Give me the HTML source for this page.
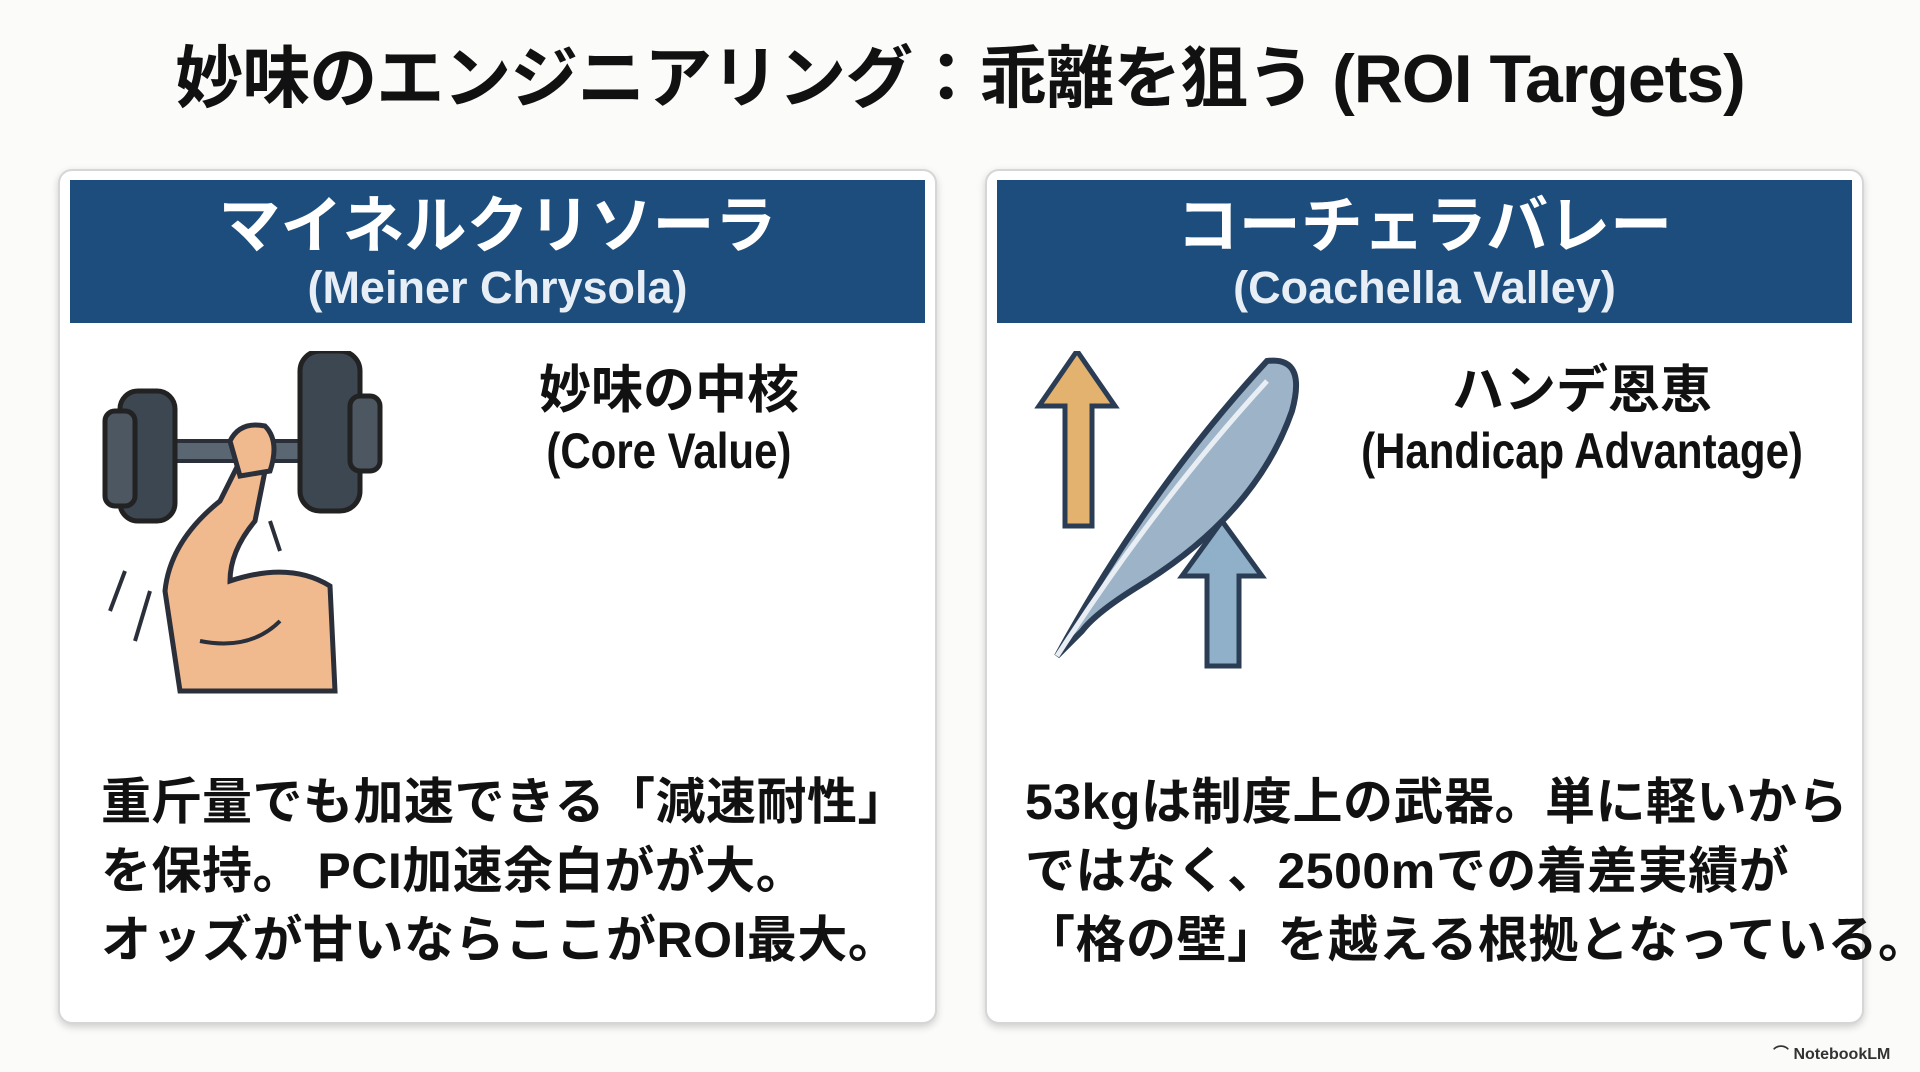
<!DOCTYPE html>
<html><head><meta charset="utf-8"><style>
body{margin:0;width:1920px;height:1072px;background:#fbfbf9;font-family:"Liberation Sans","Noto Sans CJK JP",sans-serif;position:relative;overflow:hidden;color:#111}
.t{position:absolute;white-space:nowrap;font-weight:bold}
.card{position:absolute;top:169px;width:875px;height:851px;background:#fff;border:2px solid #d6d6d6;border-radius:14px;box-shadow:0 3px 8px rgba(0,0,0,.18)}
.hd{position:absolute;left:10px;right:10px;top:9px;height:143px;background:#1d4d7c;color:#fff;text-align:center}
.hd .a{font-size:62px;line-height:70px;padding-top:12px;font-weight:bold}
.hd .b{font-size:45px;line-height:52px;font-weight:bold;color:#e8eef5}
.sub{position:absolute;text-align:center;font-weight:bold;font-size:52px;line-height:60px;white-space:nowrap}
.sub span{display:inline-block;font-size:50px;transform:scaleX(0.84)}
.body{position:absolute;font-weight:bold;font-size:50px;line-height:69px;white-space:nowrap;letter-spacing:0.5px}
</style></head><body>
<div class="t" style="left:0;width:1920px;text-align:center;top:34px;font-size:68px;line-height:90px;letter-spacing:-1px">妙味のエンジニアリング：乖離を狙う (ROI Targets)</div>

<div class="card" style="left:58px">
 <div class="hd"><div class="a">マイネルクリソーラ</div><div class="b">(Meiner Chrysola)</div></div>
 <div class="sub" style="left:359px;width:500px;top:190px">妙味の中核<br><span>(Core Value)</span></div>
 <svg style="position:absolute;left:30px;top:180px" width="330" height="350" viewBox="0 0 330 350">
  <path d="M90 340 L75 240 Q80 190 130 150 L150 110 Q170 100 175 120 L165 170 Q140 200 140 230 Q200 210 240 235 L245 340 Z" fill="#f0b98e" stroke="#2a2f3a" stroke-width="5"/>
  <path d="M110 290 Q160 300 190 270" fill="none" stroke="#2a2f3a" stroke-width="4"/>
  <rect x="80" y="90" width="150" height="20" rx="6" fill="#5a6672" stroke="#2a2f3a" stroke-width="4"/>
  <rect x="30" y="40" width="55" height="130" rx="18" fill="#3d4752" stroke="#222" stroke-width="5"/>
  <rect x="15" y="60" width="30" height="95" rx="10" fill="#4c5762" stroke="#222" stroke-width="5"/>
  <rect x="210" y="0" width="60" height="160" rx="20" fill="#3d4752" stroke="#222" stroke-width="5"/>
  <rect x="260" y="45" width="30" height="75" rx="10" fill="#4c5762" stroke="#222" stroke-width="5"/>
  <path d="M140 90 Q150 70 175 75 Q190 90 180 120 L150 125 Z" fill="#f0b98e" stroke="#2a2f3a" stroke-width="5"/>
  <path d="M60 240 L45 290 M35 220 L20 260 M180 170 L190 200" stroke="#2a2f3a" stroke-width="4"/>
 </svg>
 <div class="body" style="left:41px;top:597px">重斤量でも加速できる「減速耐性」<br>を保持。 PCI加速余白がが大。<br>オッズが甘いならここがROI最大。</div>
</div>

<div class="card" style="left:985px">
 <div class="hd"><div class="a">コーチェラバレー</div><div class="b">(Coachella Valley)</div></div>
 <div class="sub" style="left:300px;width:590px;top:190px">ハンデ恩恵<br><span>(Handicap Advantage)</span></div>
 <svg style="position:absolute;left:40px;top:180px" width="300" height="320" viewBox="0 0 300 320">
  <path d="M50 0 L88 55 L65 55 L65 175 L38 175 L38 55 L12 55 Z" fill="#e2b26e" stroke="#2a3d55" stroke-width="5"/>
  <path d="M195 170 L235 225 L212 225 L212 315 L180 315 L180 225 L155 225 Z" fill="#8fb0c8" stroke="#2a3d55" stroke-width="5"/>
  <path d="M30 305 Q120 140 240 10 Q280 5 265 60 Q230 160 120 230 Q70 260 55 280 Z" fill="#9db4c8" stroke="#2a3d55" stroke-width="6"/>
  <path d="M30 305 Q130 150 240 30" fill="none" stroke="#e8eef3" stroke-width="5"/>
 </svg>
 <div class="body" style="left:38px;top:597px">53kgは制度上の武器。単に軽いから<br>ではなく、2500mでの着差実績が<br>「格の壁」を越える根拠となっている。</div>
</div>

<div class="t" style="left:1773px;top:1040px;font-size:16px;color:#333">⌒ NotebookLM</div>
</body></html>
